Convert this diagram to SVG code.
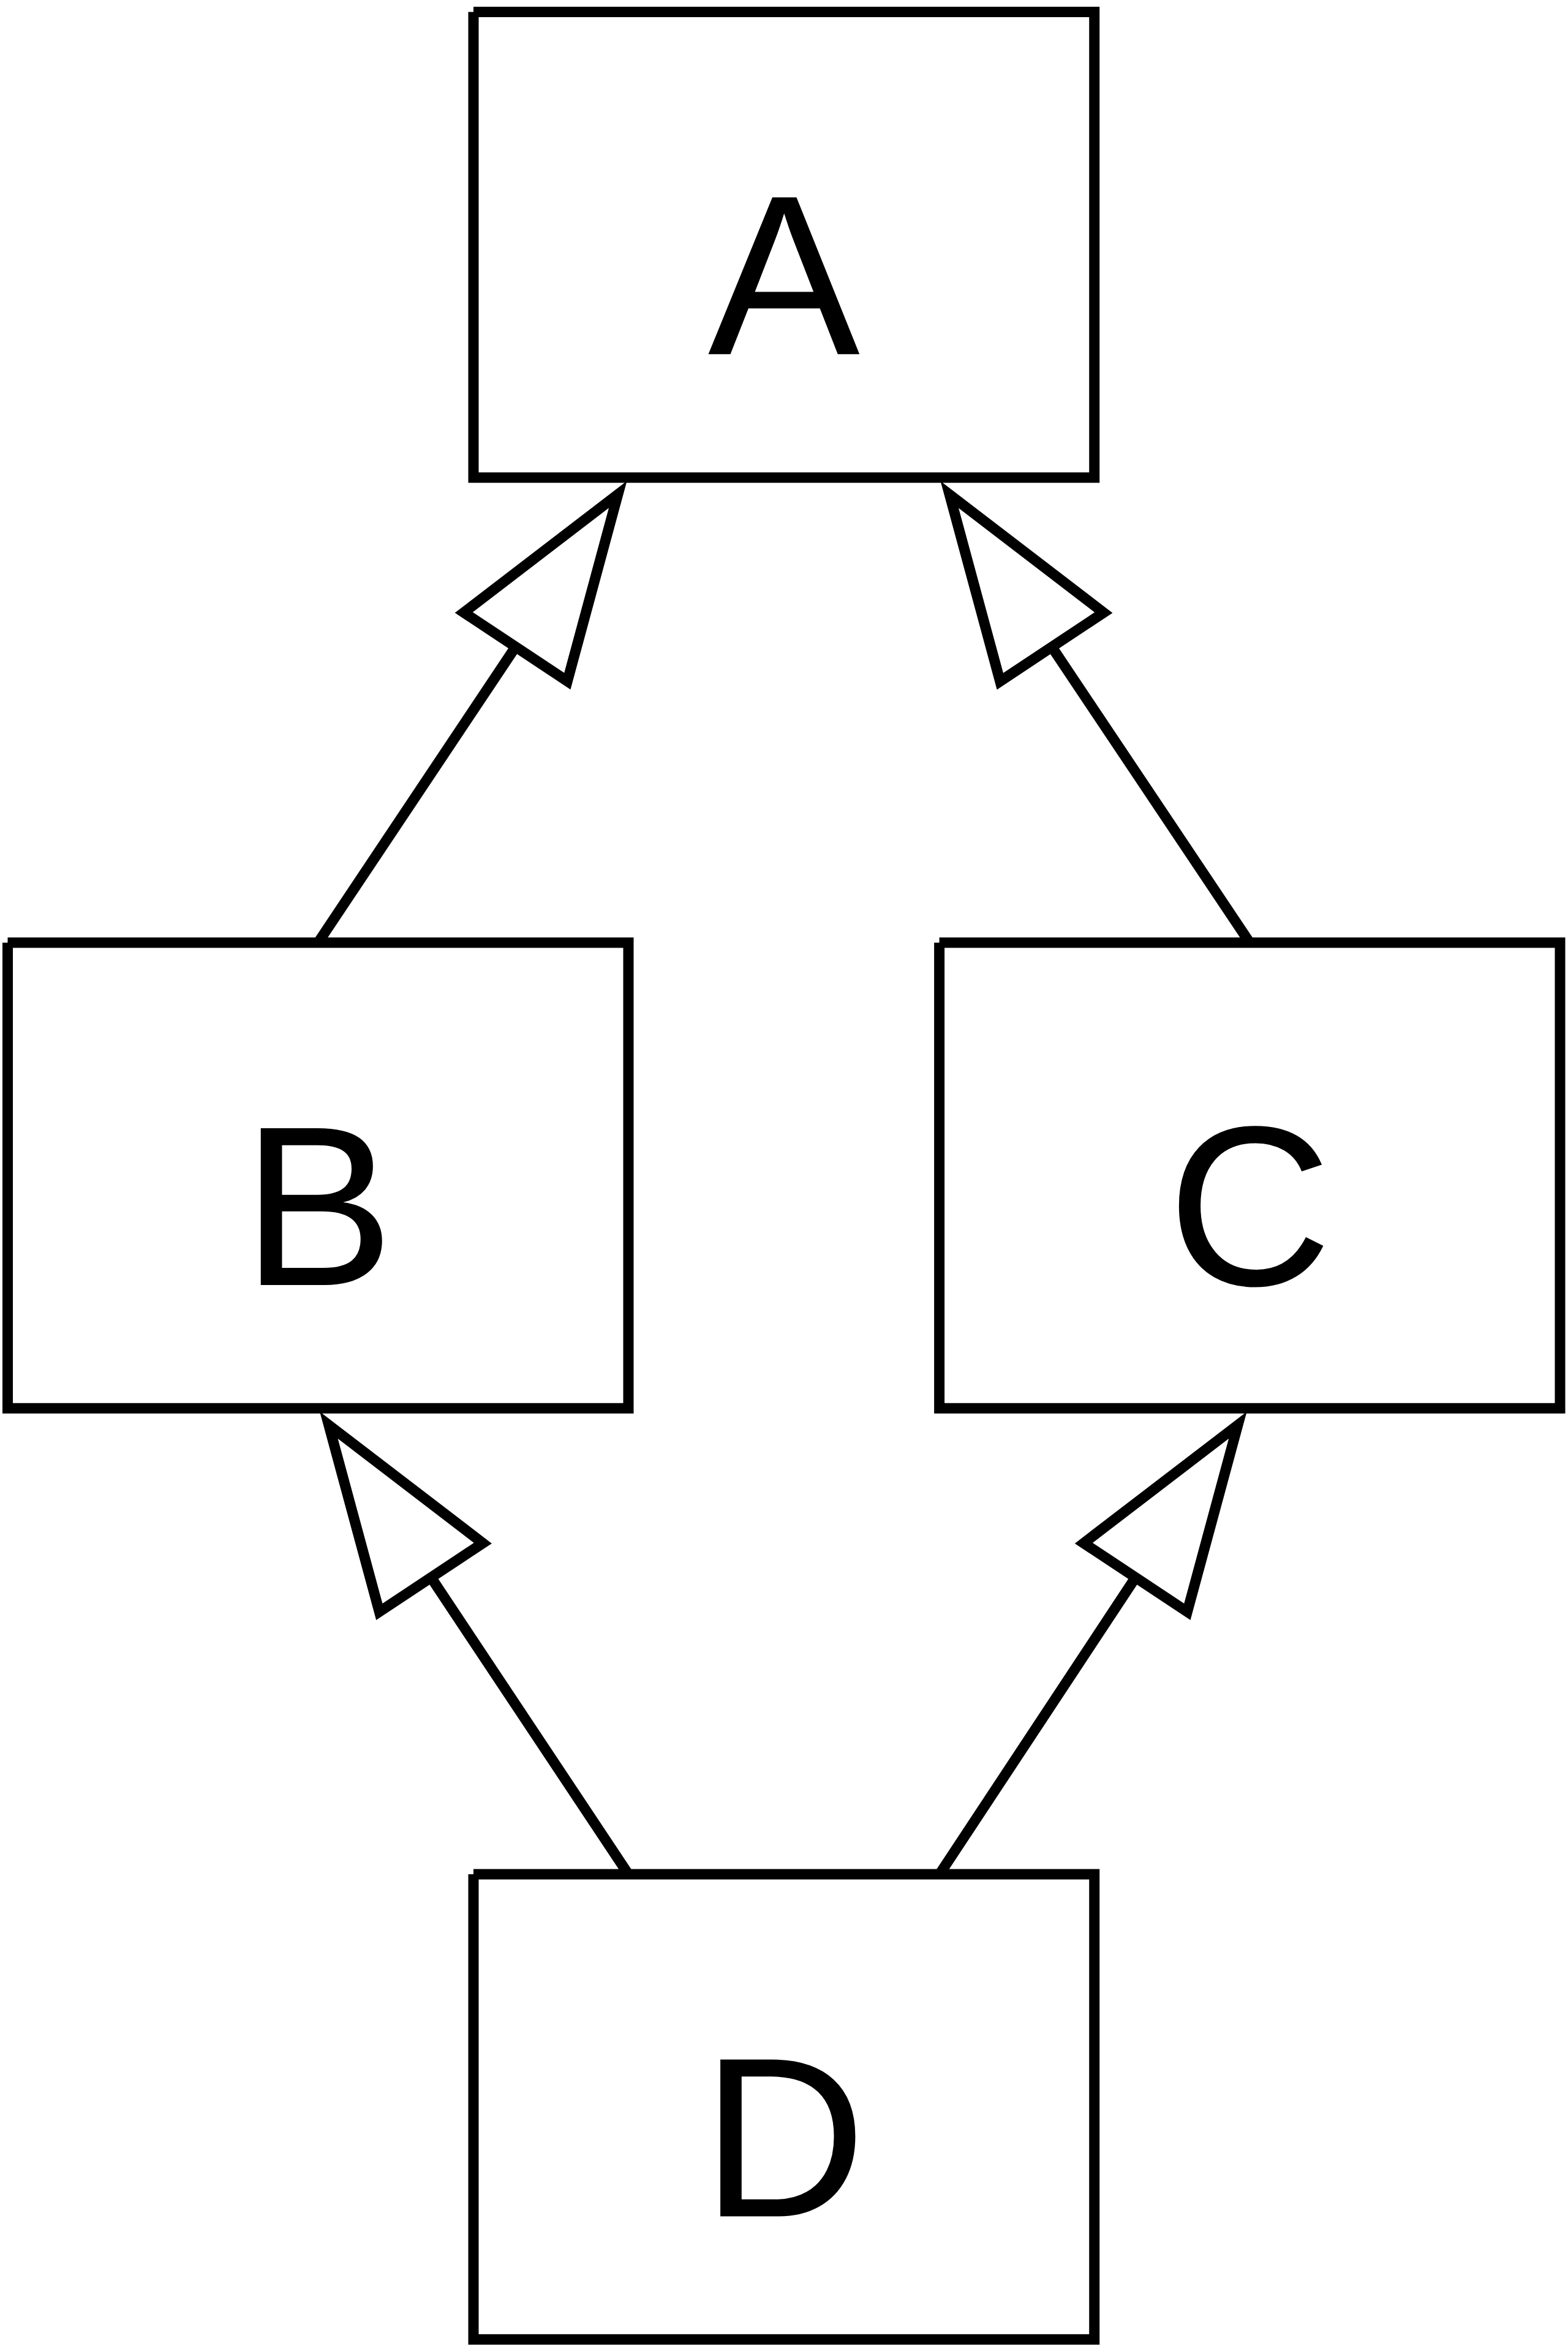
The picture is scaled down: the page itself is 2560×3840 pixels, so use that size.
<svg xmlns="http://www.w3.org/2000/svg" width="2560" height="3840" viewBox="0 0 2560 3840">
<style>
.box{fill:#ffffff;stroke:#000000;stroke-width:17;stroke-linejoin:miter;stroke-linecap:butt}
.lbl{font-family:"Liberation Sans",Arial,Helvetica,sans-serif;font-size:372px;fill:#000000;text-anchor:middle}
.edge{fill:none;stroke:#000000;stroke-width:17;stroke-linecap:butt}
.head{fill:#ffffff;stroke:#000000;stroke-width:17;stroke-linejoin:miter;stroke-miterlimit:10}
</style>
<rect x="0" y="0" width="2560" height="3840" fill="#ffffff"/>
<g id="node-A">
<path class="box" d="M773,19.5 H1786.7 V779.7 H773 V19.5"/>
<text class="lbl" x="1279.9" y="578.3">A</text>
</g>
<g id="node-B">
<path class="box" d="M12.5,1539 H1026 V2299.3 H12.5 V1539"/>
<text class="lbl" x="519.3" y="2097.9">B</text>
</g>
<g id="node-C">
<path class="box" d="M1533.6,1539 H2547 V2299.3 H1533.6 V1539"/>
<text class="lbl" x="2040.3" y="2097.9">C</text>
</g>
<g id="node-D">
<path class="box" d="M773,3060 H1786.7 V3819.5 H773 V3060"/>
<text class="lbl" x="1279.9" y="3618.5">D</text>
</g>
<g id="connectors">
<path class="edge" d="M519.3,1539 L841.8,1056"/>
<polygon class="head" points="1008.8,807.3 757.3,1000 926.3,1112.1"/>
<path class="edge" d="M2040.3,1539 L1717.3,1056.2"/>
<polygon class="head" points="1550.3,807.5 1801.8,1000.2 1632.8,1112.3"/>
<path class="edge" d="M1025.9,3060 L703.8,2575.5"/>
<polygon class="head" points="536.8,2326.7 788.3,2519.4 619.3,2631.5"/>
<path class="edge" d="M1533.9,3060 L1853.9,2575.5"/>
<polygon class="head" points="2020.9,2326.7 1769.4,2519.4 1938.4,2631.5"/>
</g>
</svg>
